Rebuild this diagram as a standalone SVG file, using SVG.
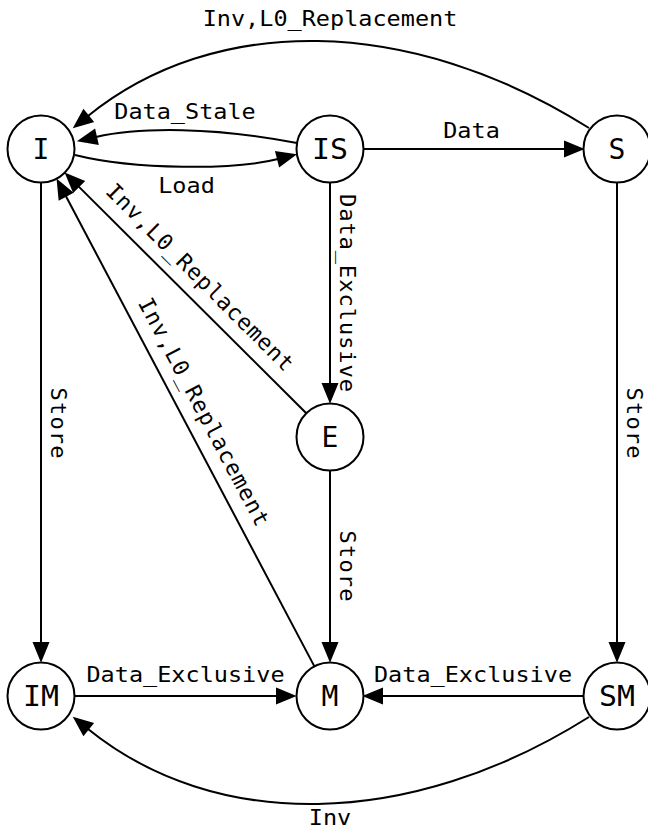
<svg xmlns="http://www.w3.org/2000/svg" width="648" height="829" viewBox="0 0 648 829">
<style>
.node circle{fill:#fff;stroke:#000;stroke-width:2}
.node text{font-family:"DejaVu Sans Mono","Liberation Mono",monospace;font-size:28px;text-anchor:middle;fill:#000}
.edge path{fill:none;stroke:#000;stroke-width:2;marker-end:url(#arr)}
.lbl{font-family:"DejaVu Sans Mono","Liberation Mono",monospace;font-size:22px;text-anchor:middle;fill:#000}
</style>
<defs>
<marker id="arr" markerUnits="userSpaceOnUse" viewBox="0 0 18 16" markerWidth="18" markerHeight="16" refX="0" refY="8" orient="auto" overflow="visible">
<path d="M0,1 L17,8 L0,15 z" fill="#000" stroke="#000" stroke-width="2"/>
</marker>
</defs>
<g id="edges" class="edge">
<path d="M589,128 C408,14 214,14 88,116"/>
<path d="M297,143 C215,127 140,127 96,137"/>
<path d="M75,155 C135,170 235,170 278,159"/>
<path d="M363.5,149 L565,149"/>
<path d="M330,182.5 L330,384"/>
<path d="M41,182.5 L41,643"/>
<path d="M330,470.5 L330,643"/>
<path d="M617,182.5 L617,643"/>
<path d="M74.5,696 L277,696"/>
<path d="M583.5,696 L382,696"/>
<path d="M306.3,413.3 L78.5,186.4"/>
<path d="M314.4,666.4 L65.7,195.8"/>
<path d="M589,717 C408,831 214,831 88,729"/>
<text class="lbl" x="330" y="26" textLength="254.7" lengthAdjust="spacingAndGlyphs">Inv,L0_Replacement</text>
<text class="lbl" x="185" y="119" textLength="141.5" lengthAdjust="spacingAndGlyphs">Data_Stale</text>
<text class="lbl" x="186.5" y="193" textLength="56.6" lengthAdjust="spacingAndGlyphs">Load</text>
<text class="lbl" x="471.5" y="138" textLength="56.6" lengthAdjust="spacingAndGlyphs">Data</text>
<text class="lbl" x="185.5" y="682" textLength="198.1" lengthAdjust="spacingAndGlyphs">Data_Exclusive</text>
<text class="lbl" x="473" y="682" textLength="198.1" lengthAdjust="spacingAndGlyphs">Data_Exclusive</text>
<text class="lbl" x="330" y="825" textLength="42.5" lengthAdjust="spacingAndGlyphs">Inv</text>
<text class="lbl" transform="translate(340,293) rotate(90)" textLength="198.1" lengthAdjust="spacing">Data_Exclusive</text>
<text class="lbl" transform="translate(51,423) rotate(90)" textLength="70.8" lengthAdjust="spacing">Store</text>
<text class="lbl" transform="translate(627,423) rotate(90)" textLength="70.8" lengthAdjust="spacing">Store</text>
<text class="lbl" transform="translate(340,566) rotate(90)" textLength="70.8" lengthAdjust="spacing">Store</text>
<text class="lbl" transform="translate(194.6,282.5) rotate(45)" textLength="254.7" lengthAdjust="spacing">Inv,L0_Replacement</text>
<text class="lbl" transform="translate(197.2,415.3) rotate(62.1)" textLength="254.7" lengthAdjust="spacing">Inv,L0_Replacement</text>
</g>
<g id="I" class="node"><circle cx="41" cy="149" r="33.5"/><text x="41" y="159">I</text></g>
<g id="IS" class="node"><circle cx="330" cy="149" r="33.5"/><text x="330" y="159" textLength="36" lengthAdjust="spacingAndGlyphs">IS</text></g>
<g id="S" class="node"><circle cx="617" cy="149" r="33.5"/><text x="617" y="159">S</text></g>
<g id="E" class="node"><circle cx="330" cy="437" r="33.5"/><text x="330" y="447">E</text></g>
<g id="IM" class="node"><circle cx="41" cy="696" r="33.5"/><text x="41" y="706" textLength="36" lengthAdjust="spacingAndGlyphs">IM</text></g>
<g id="M" class="node"><circle cx="330" cy="696" r="33.5"/><text x="330" y="706">M</text></g>
<g id="SM" class="node"><circle cx="617" cy="696" r="33.5"/><text x="617" y="706" textLength="36" lengthAdjust="spacingAndGlyphs">SM</text></g>
</svg>
